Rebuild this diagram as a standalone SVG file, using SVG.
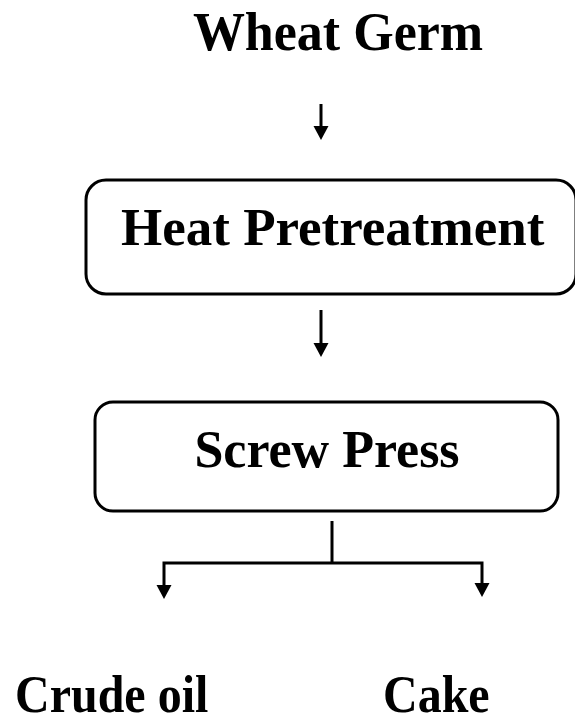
<svg xmlns="http://www.w3.org/2000/svg" width="575" height="723" viewBox="0 0 575 723">
<style>
text{font-family:"Liberation Serif","Times New Roman",serif;font-weight:bold;fill:#000}
.box{fill:#fff;stroke:#000;stroke-width:3}
.ln{fill:none;stroke:#000;stroke-width:3}
.hd{fill:#000}
</style>
<rect width="575" height="723" fill="#fff"/>
<g id="wheat-germ"><text x="338" y="50" font-size="52" text-anchor="middle" transform="translate(0,50) scale(1,1.06) translate(0,-50)">Wheat Germ</text></g>
<g id="heat-pretreatment">
<rect class="box" x="86" y="180" width="490" height="114" rx="20"/>
<text x="121" y="245" font-size="53">Heat Pretreatment</text>
</g>
<g id="screw-press">
<rect class="box" x="95" y="402" width="463" height="109" rx="18"/>
<text x="327" y="467" font-size="52" text-anchor="middle">Screw Press</text>
</g>
<g id="crude-oil"><text x="15" y="0" font-size="48" transform="translate(0,712) scale(1,1.12)">Crude oil</text></g>
<g id="cake"><text x="383" y="0" font-size="48" transform="translate(0,712) scale(1,1.12)">Cake</text></g>
<g id="connectors">
<line class="ln" x1="321" y1="104" x2="321" y2="128"/>
<path class="hd" d="M313.5,126 L328.5,126 L321,140 Z"/>
<line class="ln" x1="321" y1="310" x2="321" y2="345"/>
<path class="hd" d="M313.5,343 L328.5,343 L321,357 Z"/>
<line class="ln" x1="332" y1="521" x2="332" y2="563"/>
<polyline class="ln" points="164,587 164,563 482,563 482,585"/>
<path class="hd" d="M156.5,585 L171.5,585 L164,599 Z"/>
<path class="hd" d="M474.5,583 L489.5,583 L482,597 Z"/>
</g>
</svg>
